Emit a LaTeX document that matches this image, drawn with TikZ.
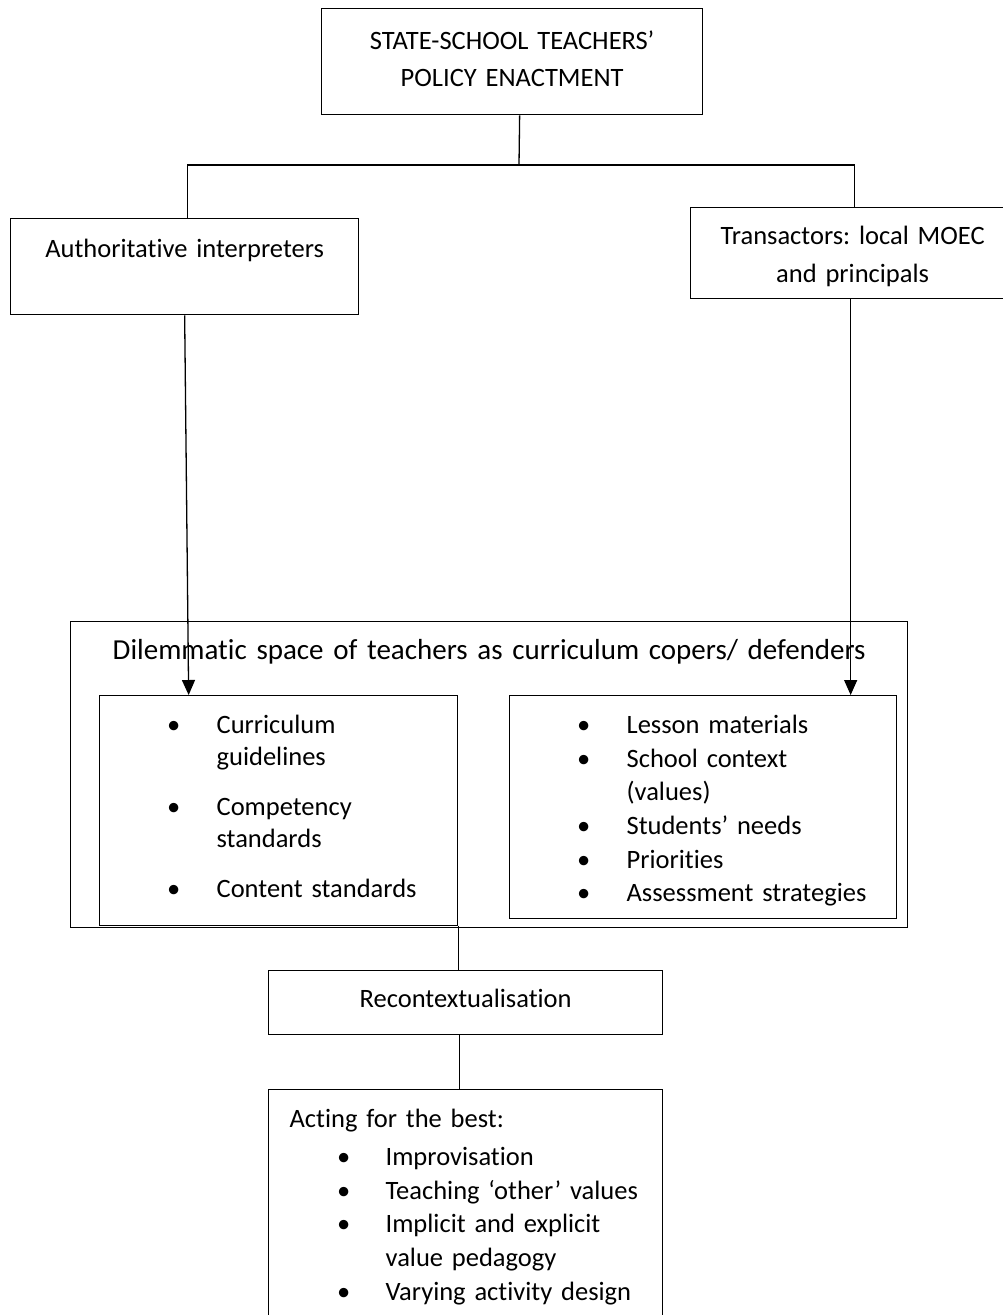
\documentclass[tikz,border=0pt]{standalone}
\usepackage{fontspec}
\setmainfont{Carlito}[Ligatures=CommonOff]
\usetikzlibrary{arrows.meta}
\frenchspacing
\tikzstyle{box} = [rectangle, draw, line width=1.3pt, inner sep=0pt,
    anchor=north west, align=left, font=\fontsize{26.5}{33.6}\selectfont]
\tikzstyle{line} = [draw, line width=1.3pt]
\tikzstyle{arrow} = [draw, line width=1.3pt, -{Triangle[length=15pt,width=13pt]}]
\newcommand{\bitem}[2][67.5pt]{\hangindent=117pt\hangafter=1\noindent
    \makebox[117pt][l]{\hspace*{#1}\textbullet}#2\par}

\begin{document}
\begin{tikzpicture}[x=1pt, y=-1pt]
    \useasboundingbox (0,0) rectangle (1003,1315);
    \clip (0,0) rectangle (1003,1315);
    % Nodes
    \node [box, text width=381pt, align=center, text height=40.5pt, text depth=65.5pt,
        font=\fontsize{26.5}{37}\selectfont] (policy) at (321,8)
        {STATE-SCHOOL TEACHERS’\\POLICY ENACTMENT};
    \node [box, text width=348pt, align=center, text height=38.5pt, text depth=57.5pt]
        (interp) at (10,218) {Authoritative interpreters};
    \node [box, text width=324pt, align=center, text height=36.5pt, text depth=54.5pt,
        font=\fontsize{26.5}{38}\selectfont] (transact) at (690,207)
        {Transactors: local MOEC\\and principals};
    \node [box, text width=837pt, align=center, text height=38pt, text depth=268pt,
        font=\fontsize{29}{35}\selectfont] (dilemma) at (70,621)
        {Dilemmatic space of teachers as curriculum copers/ defenders};
    \node [box, text width=358pt, text height=38pt, text depth=192pt,
        font=\fontsize{26.5}{32}\selectfont] (official) at (99,695)
        {\setlength{\parskip}{18pt}%
         \bitem{Curriculum\newline guidelines}%
         \bitem{Competency\newline standards}%
         \bitem{Content standards}};
    \node [box, text width=387pt, text height=38pt, text depth=185pt] (local) at (509,695)
        {\bitem{Lesson materials}%
         \bitem{School context\newline (values)}%
         \bitem{Students’ needs}%
         \bitem{Priorities}%
         \bitem{Assessment strategies}};
    \node [box, text width=394pt, align=center, text height=36.5pt, text depth=27.5pt]
        (recontext) at (268,970) {Recontextualisation};
    \node [box, text width=394pt, text height=37.5pt, text depth=203.5pt] (acting) at (268,1089)
        {\hspace*{21pt}Acting for the best:\par\vspace{5pt}%
         \bitem[68.5pt]{Improvisation}%
         \bitem[68.5pt]{Teaching ‘other’ values}%
         \bitem[68.5pt]{Implicit and explicit\newline value pedagogy}%
         \bitem[68.5pt]{Varying activity design}};
    \coordinate (bus) at (519,165);
    % Paths
    \path [line] ([xshift=7.5pt]policy.south) -- (bus);
    \path [line] ([xshift=3pt]interp.north) |- (bus) -| ([xshift=2pt]transact.north);
    \path [arrow] (interp.south) -- ([xshift=-90pt]official.north);
    \path [arrow] ([xshift=-2pt]transact.south) -- ([xshift=147.5pt]local.north);
    \path [line] (official.south east) -- (official.south east |- recontext.north);
    \path [line] ([xshift=-6pt]recontext.south) -- ([xshift=-6pt]acting.north);
\end{tikzpicture}
\end{document}
